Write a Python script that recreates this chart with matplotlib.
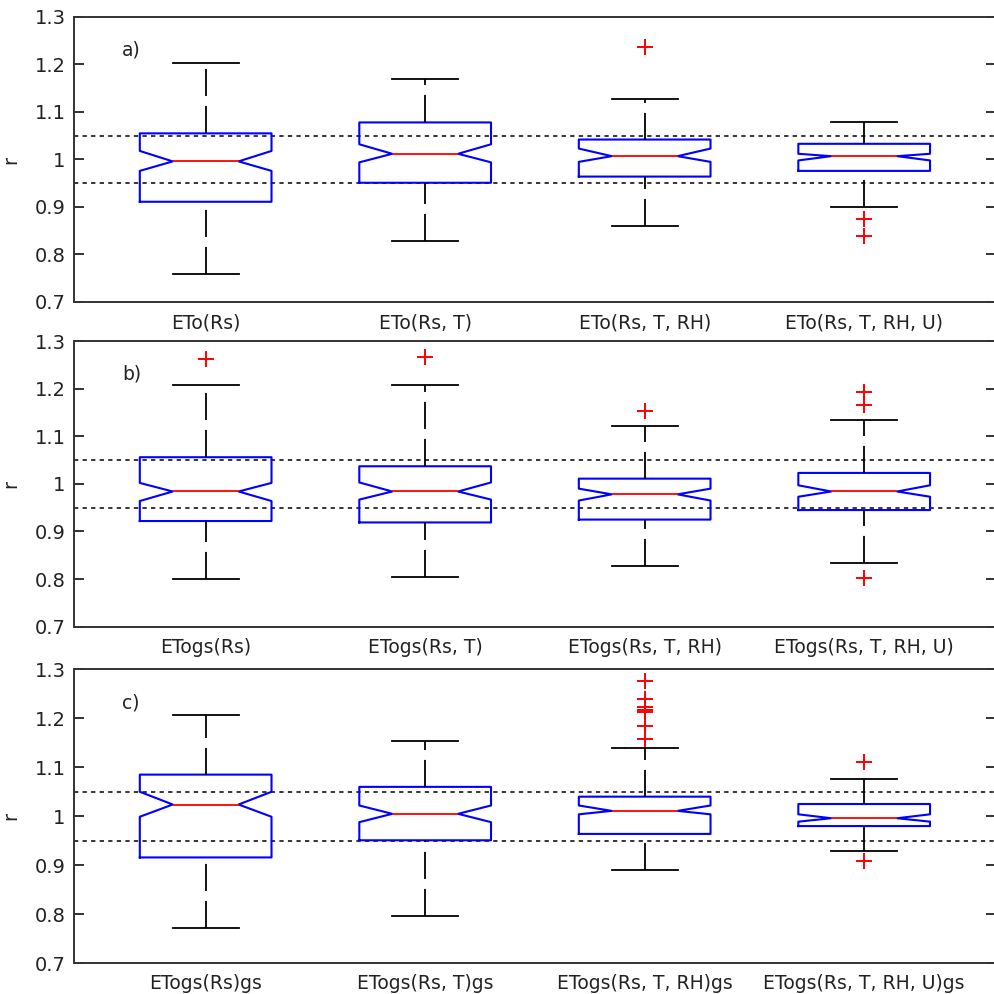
import numpy as np
import matplotlib.pyplot as plt

# ---------- Data ----------
labels_a = ['ETo(Rs)', 'ETo(Rs, T)', 'ETo(Rs, T, RH)', 'ETo(Rs, T, RH, U)']
med_a = [0.996, 1.012, 1.007, 1.007]
q1_a = [0.911, 0.951, 0.964, 0.976]
q3_a = [1.055, 1.078, 1.042, 1.033]
lo_a = [0.759, 0.829, 0.861, 0.901]
hi_a = [1.204, 1.170, 1.128, 1.078]
cilo_a = [0.976, 0.994, 0.995, 0.998]
cihi_a = [1.018, 1.032, 1.023, 1.012]
fliers_a = [[], [], [1.236], [0.875, 0.838]]

labels_b = ['ETogs(Rs)', 'ETogs(Rs, T)', 'ETogs(Rs, T, RH)', 'ETogs(Rs, T, RH, U)']
med_b = [0.984, 0.984, 0.978, 0.984]
q1_b = [0.922, 0.919, 0.925, 0.945]
q3_b = [1.056, 1.037, 1.011, 1.023]
lo_b = [0.800, 0.804, 0.827, 0.833]
hi_b = [1.208, 1.208, 1.122, 1.135]
cilo_b = [0.964, 0.967, 0.965, 0.973]
cihi_b = [1.002, 1.003, 0.990, 0.997]
fliers_b = [[1.262], [1.266], [1.154], [1.192, 1.165, 0.803]]

labels_c = ['ETogs(Rs)gs', 'ETogs(Rs, T)gs', 'ETogs(Rs, T, RH)gs', 'ETogs(Rs, T, RH, U)gs']
med_c = [1.024, 1.005, 1.011, 0.996]
q1_c = [0.916, 0.951, 0.964, 0.980]
q3_c = [1.085, 1.060, 1.040, 1.025]
lo_c = [0.773, 0.797, 0.890, 0.929]
hi_c = [1.207, 1.153, 1.139, 1.076]
cilo_c = [0.999, 0.988, 1.004, 0.989]
cihi_c = [1.050, 1.022, 1.022, 1.004]
fliers_c = [[], [], [1.277, 1.239, 1.222, 1.216, 1.213, 1.184, 1.157], [1.111, 0.909]]

panel_tags = ['a)', 'b)', 'c)']
ref_lines = [0.95, 1.05]
yticks = [0.7, 0.8, 0.9, 1.0, 1.1, 1.2, 1.3]
ytick_labels = ['0.7', '0.8', '0.9', '1', '1.1', '1.2', '1.3']


def make_stats(labels, med, q1, q3, lo, hi, cilo, cihi, fliers):
    stats = []
    for i in range(len(labels)):
        stats.append(dict(label=labels[i], med=med[i], q1=q1[i], q3=q3[i],
                          whislo=lo[i], whishi=hi[i], cilo=cilo[i], cihi=cihi[i],
                          fliers=np.array(fliers[i])))
    return stats


panels = [
    make_stats(labels_a, med_a, q1_a, q3_a, lo_a, hi_a, cilo_a, cihi_a, fliers_a),
    make_stats(labels_b, med_b, q1_b, q3_b, lo_b, hi_b, cilo_b, cihi_b, fliers_b),
    make_stats(labels_c, med_c, q1_c, q3_c, lo_c, hi_c, cilo_c, cihi_c, fliers_c),
]

# axes rectangles in figure fraction (left, bottom, width, height)
rects = [
    (0.0744, 0.6962, 0.9275, 0.2867),
    (0.0744, 0.3695, 0.9275, 0.2874),
    (0.0744, 0.0309, 0.9275, 0.2958),
]

# ---------- Plotting ----------
plt.rcParams['font.family'] = 'DejaVu Sans'
fig = plt.figure(figsize=(9.94, 9.94), dpi=100, facecolor='white')
text_color = '#222222'

for stats, rect, tag in zip(panels, rects, panel_tags):
    ax = fig.add_axes(rect)
    bp = ax.bxp(stats, positions=[1, 2, 3, 4], widths=0.6, shownotches=True,
                boxprops=dict(color='blue', linewidth=1.5),
                medianprops=dict(color='red', linewidth=1.3),
                whiskerprops=dict(color='black', linewidth=1.3, linestyle=(0, (15, 5.5))),
                capprops=dict(color='black', linewidth=1.3),
                flierprops=dict(marker='+', markeredgecolor='red', markersize=11,
                                markeredgewidth=1.4, linestyle='none'))
    # lower whisker drawn from its end towards the box
    for w in bp['whiskers'][0::2]:
        w.set_ydata(w.get_ydata()[::-1])

    for yv in ref_lines:
        ax.axhline(yv, color='black', linewidth=1.1, linestyle=(0, (2.8, 2.8)), zorder=1)

    ax.set_xlim(0.4, 4.6)
    ax.set_ylim(0.7, 1.3)
    ax.set_yticks(yticks)
    ax.set_yticklabels(ytick_labels)
    ax.tick_params(axis='y', direction='in', length=7, width=1.3, right=True,
                   labelsize=14, colors=text_color, pad=6)
    ax.tick_params(axis='x', length=0, labelsize=13.5, colors=text_color, pad=8)
    ax.spines['right'].set_visible(False)
    for s in ['left', 'top', 'bottom']:
        ax.spines[s].set_linewidth(1.4)
        ax.spines[s].set_color('#333333')
    ax.set_ylabel('r', fontsize=14, color=text_color)
    ax.yaxis.set_label_coords(-0.058, 0.5)
    ax.text(0.052, 0.884, tag, transform=ax.transAxes, fontsize=13.5,
            color=text_color, ha='left', va='center')

fig.savefig('out.png', dpi=100, facecolor='white')
